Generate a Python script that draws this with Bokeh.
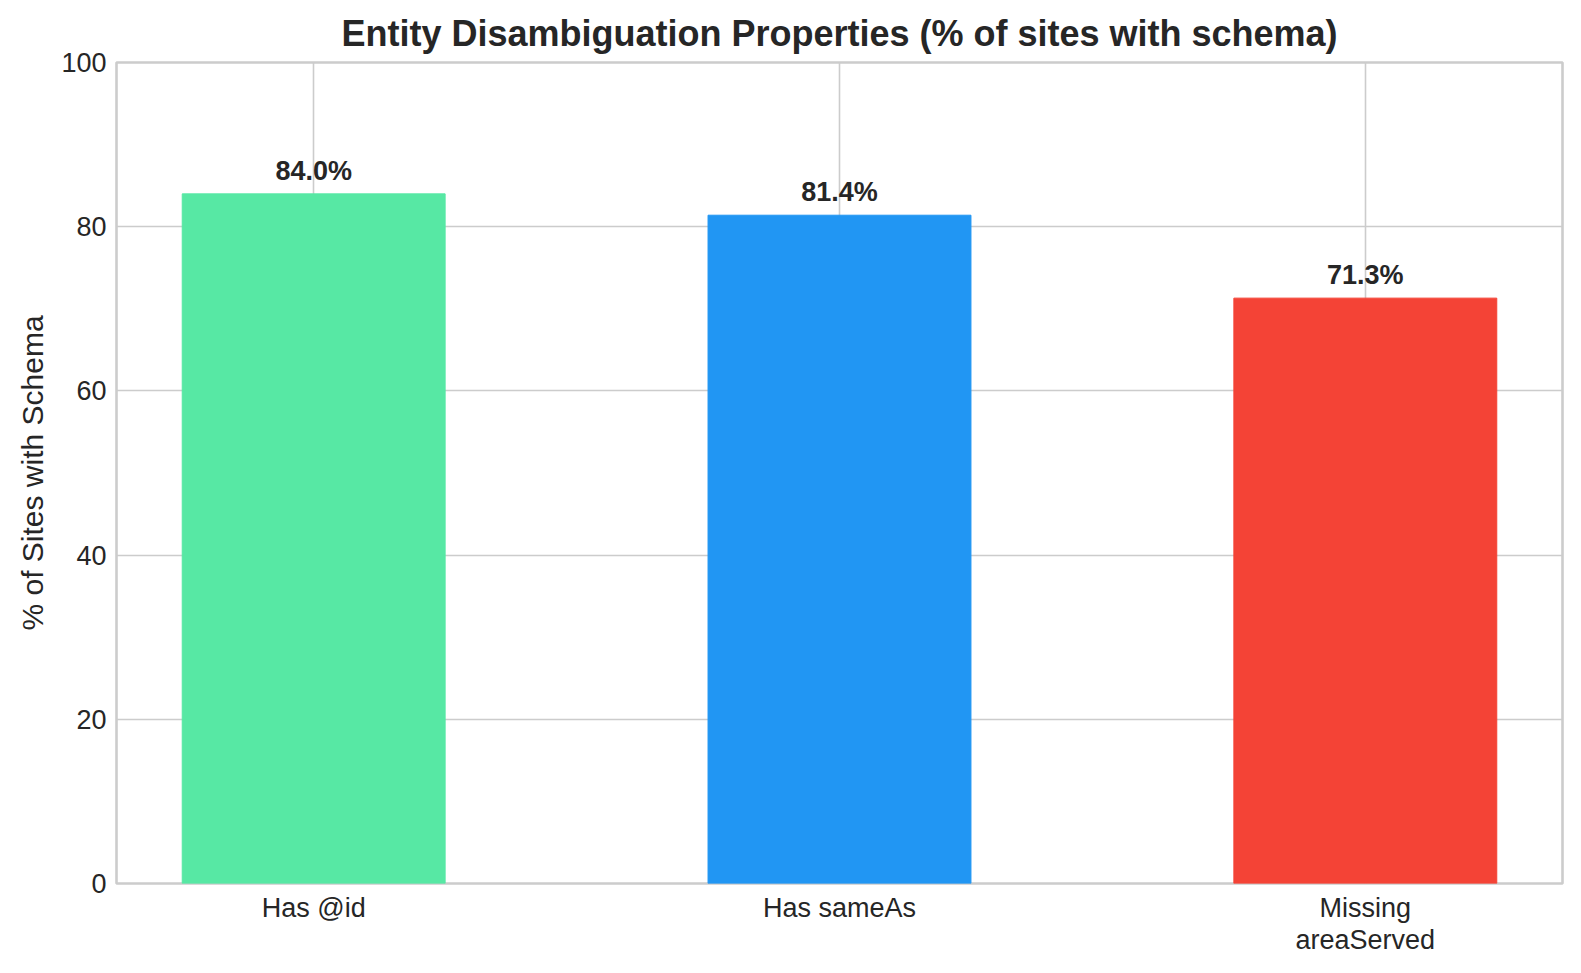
from bokeh.plotting import figure
from bokeh.models import Range1d, FixedTicker, ColumnDataSource
from bokeh.core.properties import value
from bokeh.embed import file_html
from bokeh.resources import INLINE

categories = ["Has @id", "Has sameAs", "Missing\nareaServed"]
values = [84.0, 81.4, 71.3]
colors = ["#57E8A4", "#2196F3", "#F44336"]
y_ticks = [0, 20, 40, 60, 80, 100]

FONT = "Liberation Sans"
TXT = "#262626"

xs = list(range(len(categories)))
labels = [f"{v:.1f}%" for v in values]
src = ColumnDataSource(dict(x=xs, top=values, color=colors, label=labels))

p = figure(width=1565, height=957, output_backend="svg", toolbar_location=None,
           x_range=Range1d(-0.375, len(categories) - 1 + 0.375), y_range=Range1d(0, 100),
           min_border_left=116, min_border_right=3, min_border_top=62, min_border_bottom=70)

p.vbar(x="x", top="top", width=0.5, bottom=0, color="color", source=src)
p.text(x="x", y="top", text="label", source=src, text_align="center",
       text_baseline="alphabetic", y_offset=-23, text_font_size="27px",
       text_font_style="bold", text_color=TXT, text_font=value(FONT))

p.title.text = "Entity Disambiguation Properties (% of sites with schema)"
p.title.align = "center"
p.title.text_font = FONT
p.title.text_font_size = "36px"
p.title.text_font_style = "bold"
p.title.text_color = TXT
p.title.standoff = 18

p.xaxis.ticker = FixedTicker(ticks=xs)
p.xaxis.major_label_overrides = {i: c for i, c in enumerate(categories)}
p.yaxis.ticker = FixedTicker(ticks=y_ticks)
p.yaxis.axis_label = "% of Sites with Schema"

for ax in (p.xaxis[0], p.yaxis[0]):
    ax.axis_line_color = None
    ax.major_tick_line_color = None
    ax.minor_tick_line_color = None
    ax.major_tick_out = 0
    ax.major_tick_in = 0
    ax.major_label_text_font = FONT
    ax.major_label_text_font_size = "27px"
    ax.major_label_text_color = TXT
    ax.major_label_standoff = 10
    ax.axis_label_text_font = FONT
    ax.axis_label_text_font_size = "30px"
    ax.axis_label_text_font_style = "normal"
    ax.axis_label_text_color = TXT
p.xaxis.major_label_standoff = 9
p.xaxis.major_label_text_line_height = 1.07
p.yaxis.axis_label_standoff = 9

p.grid.grid_line_color = "#cccccc"
p.grid.grid_line_width = 1.6
p.outline_line_color = "#cccccc"
p.outline_line_width = 2.6
p.outline_line_alpha = 1.0
p.background_fill_color = "white"
p.border_fill_color = "white"

open("out.html", "w").write(file_html(p, INLINE))
